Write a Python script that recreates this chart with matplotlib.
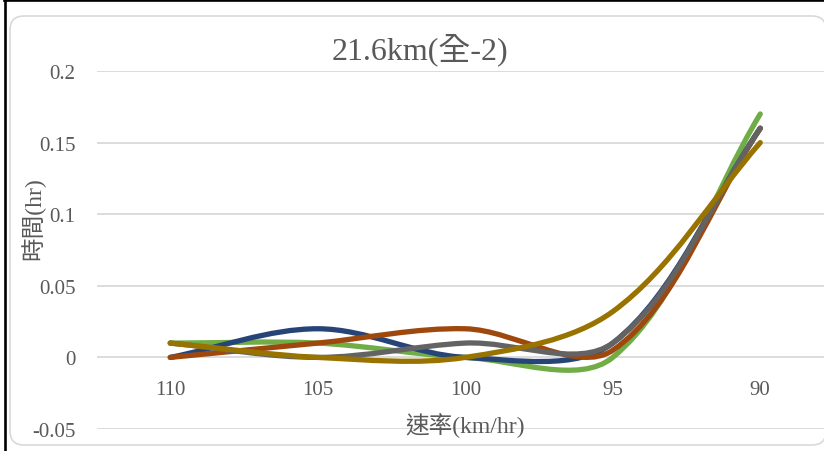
import numpy as np
import matplotlib.pyplot as plt
from matplotlib.path import Path
from matplotlib.patches import PathPatch, FancyBboxPatch
from matplotlib.lines import Line2D

plt.rcParams['font.family'] = ['Liberation Serif', 'Noto Sans CJK TC']

# data (x axis is categorical, speed in km/hr)
speeds = ['110', '105', '100', '95', '90']
s_green = [0.01, 0.01, 0.0, 0.0, 0.17]
s_blue = [0.0, 0.02, 0.0, 0.01, 0.16]
s_orange = [0.0, 0.01, 0.02, 0.005, 0.16]
s_gray = [0.01, 0.0, 0.01, 0.01, 0.16]
s_gold = [0.01, 0.0, 0.0, 0.032, 0.15]
y_ticks = [-0.05, 0, 0.05, 0.1, 0.15, 0.2]
y_labels = ['-0.05', '0', '0.05', '0.1', '0.15', '0.2']

series = [(s_green, '#70AD47'), (s_blue, '#264478'), (s_orange, '#9E480E'),
          (s_gray, '#636363'), (s_gold, '#997300')]
TXT = '#595959'

# rough screen scale (px per category, px per hour) used for the smoothing
SX, SY = 147.5, 1432.0


def smooth_path(xs, ys):
    # smoothed line: tangents weighted by chord length, like excel's
    p = np.column_stack([np.asarray(xs) * SX, np.asarray(ys) * SY]).astype(float)
    n = len(p)
    d = np.hypot(*np.diff(p, axis=0).T)
    c_out, c_in = [], []
    for i in range(n):
        a = p[max(i - 1, 0)]
        b = p[min(i + 1, n - 1)]
        t = b - a
        dl = d[i - 1] if i > 0 else 0.0
        dr = d[i] if i < n - 1 else 0.0
        tot = dl + dr
        c_out.append(p[i] + t * (dr / tot) / 3.0)
        c_in.append(p[i] - t * (dl / tot) / 3.0)
    verts = [p[0]]
    codes = [Path.MOVETO]
    for i in range(n - 1):
        verts += [c_out[i], c_in[i + 1], p[i + 1]]
        codes += [Path.CURVE4] * 3
    verts = np.array(verts) / [SX, SY]
    return Path(verts, codes)


fig = plt.figure(figsize=(8.24, 4.52), dpi=100)

# chart area frame
frame = FancyBboxPatch((0.10, 0.06), 8.16, 4.29,
                       boxstyle='round,pad=0,rounding_size=0.14',
                       transform=fig.dpi_scale_trans, fc='white',
                       ec='#D9D9D9', lw=1.2, zorder=-1)
fig.add_artist(frame)
fig.add_artist(Line2D([5 / 824, 5 / 824], [0, 1], transform=fig.transFigure,
                      color='black', lw=1.9))
fig.add_artist(Line2D([4 / 824, 1], [1 - 1.2 / 452, 1 - 1.2 / 452],
                      transform=fig.transFigure, color='black', lw=1.9))

ax = fig.add_axes([96.5 / 824, 22 / 452, 737.5 / 824, 358 / 452])
ax.set_facecolor('none')
x = np.arange(len(speeds))

for vals, col in series:
    ax.add_patch(PathPatch(smooth_path(x, vals), fill=False, edgecolor=col,
                           lw=3.8, capstyle='round', joinstyle='round'))

ax.set_xlim(-0.5, len(speeds) - 0.5)
ax.set_ylim(-0.05, 0.2)
ax.set_yticks(y_ticks)
ax.set_yticklabels(y_labels)
ax.set_xticks([])
ax.yaxis.grid(True, color='#D9D9D9', lw=1.3)
ax.set_axisbelow(True)
ax.tick_params(axis='y', length=0, pad=15, labelsize=15, labelcolor=TXT)
for sp in ax.spines.values():
    sp.set_visible(False)

# category labels sit just under the zero line
for i, lab in enumerate(speeds):
    ax.annotate(lab, (i, 0), xytext=(0, -37), textcoords='offset pixels',
                ha='center', va='baseline', fontsize=15, color=TXT,
                annotation_clip=False)

fig.text(420 / 824, 1 - 50 / 452, '21.6km(全-2)', ha='center', va='center',
         fontsize=23, color=TXT)
fig.text(465 / 824, 1 - 426 / 452, '速率(km/hr)', ha='center', va='center',
         fontsize=17, color=TXT)
fig.text(33 / 824, 1 - 219 / 452, '時間(hr)', ha='center', va='center',
         rotation=90, fontsize=17, color=TXT)

fig.savefig('out.png', dpi=100)
